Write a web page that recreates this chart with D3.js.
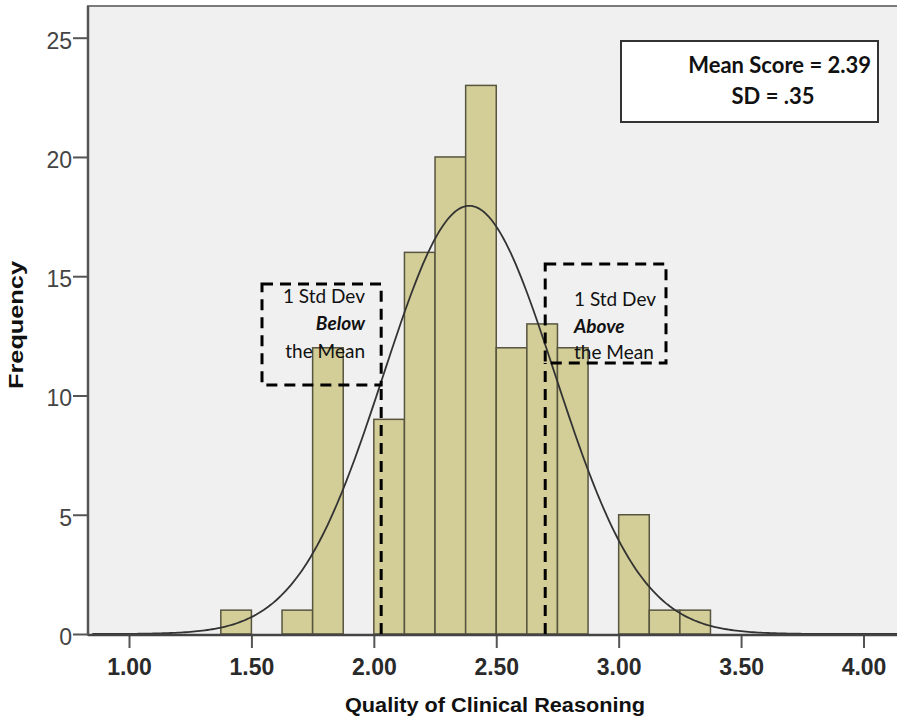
<!DOCTYPE html>
<html>
<head>
<meta charset="utf-8">
<script src="https://cdn.jsdelivr.net/npm/d3@7"></script>
<style>
  body { margin: 0; background: #fff; }
  svg { display: block; }
</style>
</head>
<body>
<svg></svg>
<script>
const width = 897, height = 720;
const svg = d3.select("svg").attr("width", width).attr("height", height);

// histogram bins (lower edge) and counts, bin width .125
const binStarts = [1.375, 1.625, 1.75, 2.0, 2.125, 2.25, 2.375, 2.5, 2.625, 2.75, 3.0, 3.125, 3.25];
const binCounts = [1, 1, 12, 9, 16, 20, 23, 12, 13, 12, 5, 1, 1];
const binWidth = 0.125;

const xTicks = [1.0, 1.5, 2.0, 2.5, 3.0, 3.5, 4.0];
const yTicks = [0, 5, 10, 15, 20, 25];

const meanScore = 2.39, sdScore = 0.35;
// hand drawn 1 SD markers
const sdLines = [2.03, 2.70];

const margin = { top: 6, left: 88, bottom: 635, right: 902 };

const x = d3.scaleLinear().domain([1.0, 4.0]).range([129, 863.5]);
const y = d3.scaleLinear().domain([0, 25]).range([634, 37.7]);

// plot background
svg.append("rect")
    .attr("x", margin.left).attr("y", margin.top)
    .attr("width", margin.right - margin.left)
    .attr("height", margin.bottom - margin.top)
    .attr("fill", "#f0f0f0")
    .attr("stroke", "#7a7a7a")
    .attr("stroke-width", 2);

// bars
svg.selectAll("rect.bar")
    .data(binStarts.map((s, i) => ({ s, n: binCounts[i] })))
    .enter().append("rect")
    .attr("class", "bar")
    .attr("x", d => x(d.s))
    .attr("y", d => y(d.n))
    .attr("width", d => x(d.s + binWidth) - x(d.s))
    .attr("height", d => y(0) - y(d.n))
    .attr("fill", "#d3cd97")
    .attr("stroke", "#57553f")
    .attr("stroke-width", 1.5);

// normal curve
const total = d3.sum(binCounts);
const curvePts = d3.range(0.85, 4.2, 0.01).map(v => {
    const z = (v - meanScore) / sdScore;
    return [v, total * binWidth / (sdScore * Math.sqrt(2 * Math.PI)) * Math.exp(-0.5 * z * z)];
});
svg.append("path")
    .datum(curvePts)
    .attr("fill", "none")
    .attr("stroke", "#333")
    .attr("stroke-width", 1.8)
    .attr("d", d3.line().x(d => x(d[0])).y(d => y(d[1])));

// axes
const xAxis = svg.append("g")
    .attr("transform", `translate(0,${margin.bottom})`)
    .call(d3.axisBottom(x).tickValues(xTicks).tickFormat(d3.format(".2f")).tickSize(13).tickPadding(11));
xAxis.select(".domain").remove();
xAxis.selectAll("line").attr("stroke", "#555").attr("stroke-width", 2);
xAxis.selectAll("text")
    .attr("font-family", "'Liberation Sans', Arial, sans-serif")
    .attr("font-size", 23).attr("font-weight", "bold").attr("fill", "#2a2a2a");

const yAxis = svg.append("g")
    .attr("transform", `translate(${margin.left},0)`)
    .call(d3.axisLeft(y).tickValues(yTicks).tickSize(15).tickPadding(1));
yAxis.select(".domain").remove();
yAxis.selectAll("line").attr("stroke", "#555").attr("stroke-width", 2);
yAxis.selectAll("text")
    .attr("font-family", "'Liberation Sans', Arial, sans-serif")
    .attr("font-size", 23).attr("fill", "#444").attr("dy", "0.45em");

// axis lines
svg.append("line")
    .attr("x1", margin.left).attr("x2", margin.right)
    .attr("y1", margin.bottom).attr("y2", margin.bottom)
    .attr("stroke", "#444").attr("stroke-width", 2.5);
svg.append("line")
    .attr("x1", margin.left).attr("x2", margin.left)
    .attr("y1", margin.top).attr("y2", margin.bottom)
    .attr("stroke", "#555").attr("stroke-width", 2.5);

// axis titles
svg.append("text")
    .attr("x", 495).attr("y", 712)
    .attr("text-anchor", "middle")
    .attr("font-family", "'Liberation Sans', Arial, sans-serif")
    .attr("font-size", 20).attr("font-weight", "bold").attr("fill", "#111")
    .attr("textLength", 300).attr("lengthAdjust", "spacingAndGlyphs")
    .text("Quality of Clinical Reasoning");
svg.append("text")
    .attr("transform", "translate(23,325) rotate(-90)")
    .attr("text-anchor", "middle")
    .attr("font-family", "'Liberation Sans', Arial, sans-serif")
    .attr("font-size", 20).attr("font-weight", "bold").attr("fill", "#111")
    .attr("textLength", 128).attr("lengthAdjust", "spacingAndGlyphs")
    .text("Frequency");

// dashed SD lines and boxes
const dash = "11,7";
const boxFont = "Lato, 'Open Sans', sans-serif";
svg.append("line")
    .attr("x1", x(sdLines[0])).attr("x2", x(sdLines[0]))
    .attr("y1", y(0)).attr("y2", 385)
    .attr("stroke", "#000").attr("stroke-width", 3).attr("stroke-dasharray", dash);
svg.append("line")
    .attr("x1", x(sdLines[1])).attr("x2", x(sdLines[1]))
    .attr("y1", y(0)).attr("y2", 363)
    .attr("stroke", "#000").attr("stroke-width", 3).attr("stroke-dasharray", dash);

svg.append("rect")
    .attr("x", 262).attr("y", 284).attr("width", x(sdLines[0]) - 262).attr("height", 101)
    .attr("fill", "none").attr("stroke", "#000").attr("stroke-width", 3).attr("stroke-dasharray", dash);
svg.append("rect")
    .attr("x", x(sdLines[1])).attr("y", 264).attr("width", 666 - x(sdLines[1])).attr("height", 99)
    .attr("fill", "none").attr("stroke", "#000").attr("stroke-width", 3).attr("stroke-dasharray", dash);

const leftBox = [["1 Std Dev", 303, "normal", "normal"], ["Below", 330, "bold", "italic"], ["the Mean", 358, "normal", "normal"]];
svg.selectAll("text.lb").data(leftBox).enter().append("text")
    .attr("x", 365).attr("y", d => d[1])
    .attr("text-anchor", "end")
    .attr("font-family", boxFont).attr("font-size", 19)
    .attr("font-weight", d => d[2]).attr("font-style", d => d[3]).attr("fill", "#111")
    .text(d => d[0]);

const rightBox = [["1 Std Dev", 306, "normal", "normal"], ["Above", 333, "bold", "italic"], ["the Mean", 359, "normal", "normal"]];
svg.selectAll("text.rb").data(rightBox).enter().append("text")
    .attr("x", 574).attr("y", d => d[1])
    .attr("font-family", boxFont).attr("font-size", 19)
    .attr("font-weight", d => d[2]).attr("font-style", d => d[3]).attr("fill", "#111")
    .text(d => d[0]);

// mean / sd box
svg.append("rect")
    .attr("x", 621).attr("y", 41).attr("width", 257).attr("height", 81)
    .attr("fill", "#fff").attr("stroke", "#333").attr("stroke-width", 2);
svg.append("text")
    .attr("x", 871).attr("y", 73).attr("text-anchor", "end")
    .attr("font-family", boxFont).attr("font-size", 22).attr("font-weight", "bold").attr("fill", "#111")
    .text(`Mean Score = ${meanScore.toFixed(2)}`);
svg.append("text")
    .attr("x", 773).attr("y", 104).attr("text-anchor", "middle")
    .attr("font-family", boxFont).attr("font-size", 22).attr("font-weight", "bold").attr("fill", "#111")
    .text("SD = .35");
</script>
</body>
</html>
